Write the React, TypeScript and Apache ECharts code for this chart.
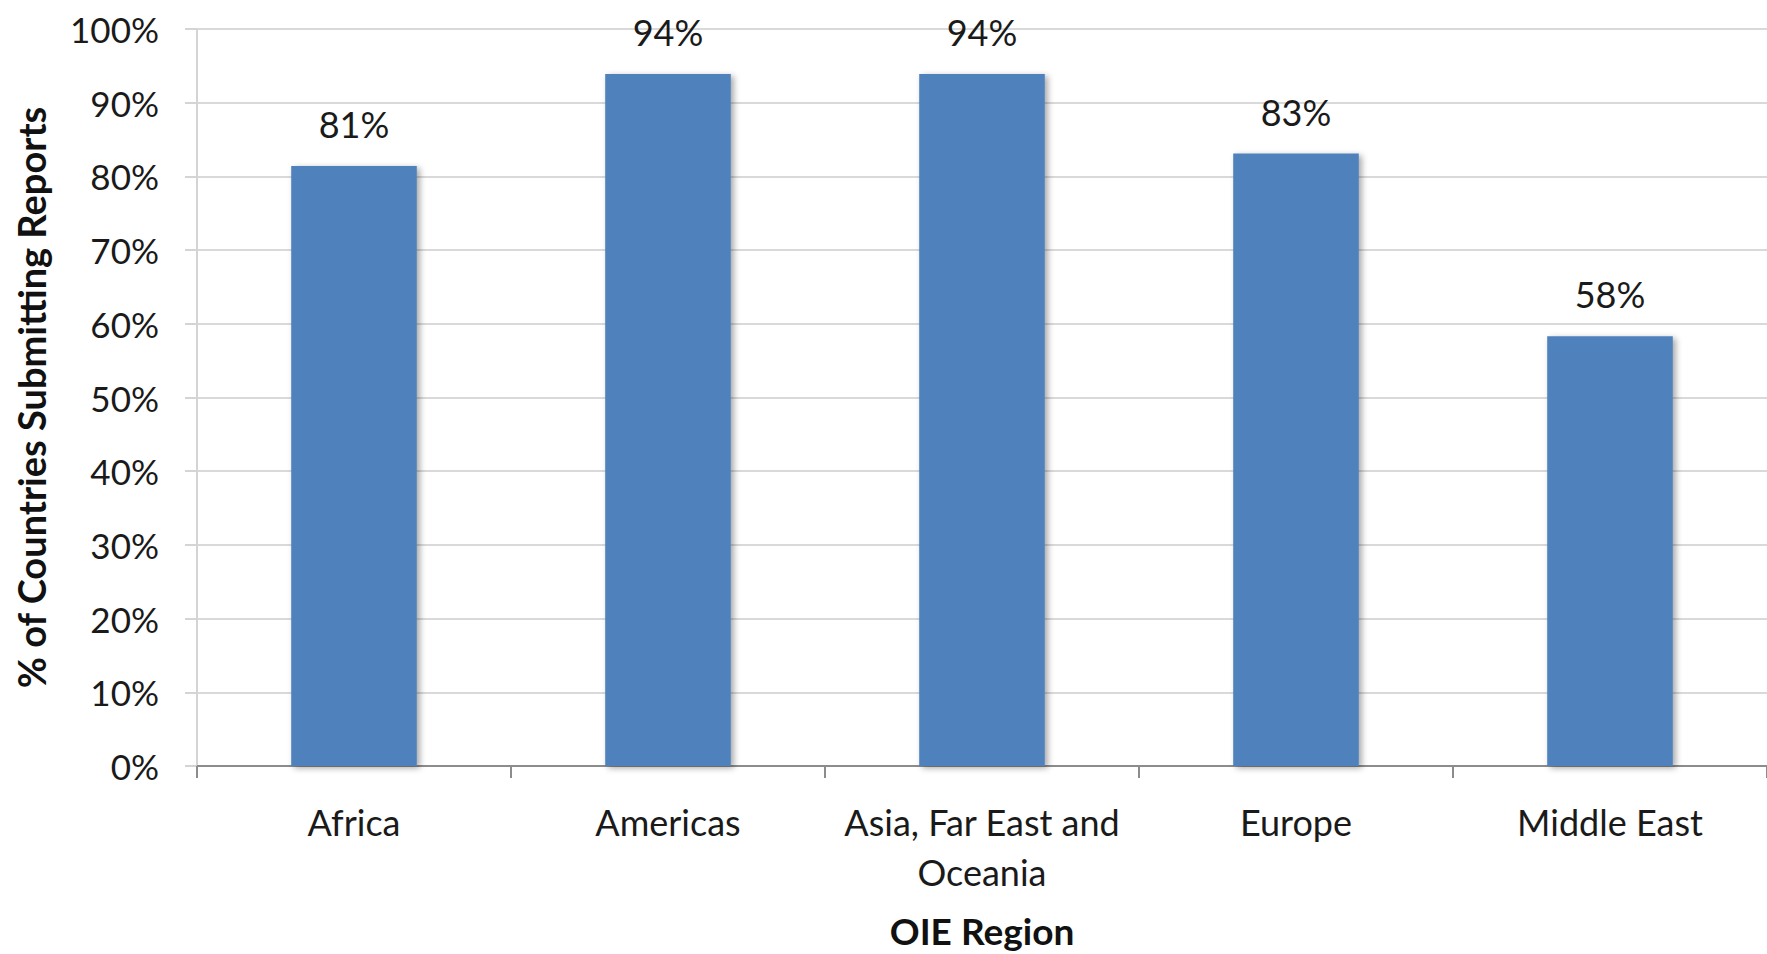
import React, { useEffect, useRef } from "react";
import * as echarts from "echarts";

const categories = ["Africa", "Americas", "Asia, Far East and\nOceania", "Europe", "Middle East"];
const values = [81.4, 93.9, 93.9, 83.1, 58.3];
const yTickMin = 0;
const yTickMax = 100;
const yTickStep = 10;

const FONT = "Lato, 'Open Sans', sans-serif";

export default function App() {
  const ref = useRef<HTMLDivElement>(null);
  useEffect(() => {
    if (!ref.current) return;
    const chart = echarts.init(ref.current, null, { renderer: "svg" });
    chart.setOption({
      animation: false,
      backgroundColor: "#ffffff",
      grid: { left: 197, top: 29, width: 1579, height: 740, containLabel: false },
      xAxis: {
        type: "category",
        data: categories,
        name: "OIE Region",
        nameLocation: "middle",
        nameGap: 146,
        nameTextStyle: { fontFamily: FONT, fontSize: 37, fontWeight: "bold", color: "#111" },
        axisLine: { show: true, lineStyle: { color: "#8c8c8c", width: 2 } },
        axisTick: { show: true, length: 12, lineStyle: { color: "#8c8c8c", width: 2 } },
        axisLabel: {
          interval: 0,
          margin: 31,
          fontFamily: FONT,
          fontSize: 36,
          lineHeight: 50,
          color: "#1a1a1a",
        },
      },
      yAxis: {
        type: "value",
        min: yTickMin,
        max: yTickMax,
        interval: yTickStep,
        name: "% of Countries Submitting Reports",
        nameLocation: "middle",
        nameGap: 147,
        nameTextStyle: { fontFamily: FONT, fontSize: 38, fontWeight: "bold", color: "#111" },
        axisLine: { show: true, lineStyle: { color: "#d4d4d4", width: 2 } },
        axisTick: { show: true, length: 12, lineStyle: { color: "#d4d4d4", width: 2 } },
        splitLine: { show: true, lineStyle: { color: "#d9d9d9", width: 2 } },
        axisLabel: {
          formatter: "{value}%",
          margin: 38,
          fontFamily: FONT,
          fontSize: 35,
          color: "#1a1a1a",
        },
      },
      series: [
        {
          type: "bar",
          data: values,
          barWidth: "40%",
          itemStyle: {
            color: "#4F81BD",
            shadowColor: "rgba(0,0,0,0.35)",
            shadowBlur: 6,
            shadowOffsetX: 3,
            shadowOffsetY: 2,
          },
          label: {
            show: true,
            position: "top",
            distance: 24,
            fontFamily: FONT,
            fontSize: 36,
            color: "#1a1a1a",
            formatter: (p: any) => Math.round(p.value) + "%",
          },
        },
      ],
    });
    return () => chart.dispose();
  }, []);
  return (
    <div
      ref={ref}
      style={{ position: "fixed", left: 0, top: 0, width: 1767, height: 954, background: "#fff" }}
    />
  );
}
